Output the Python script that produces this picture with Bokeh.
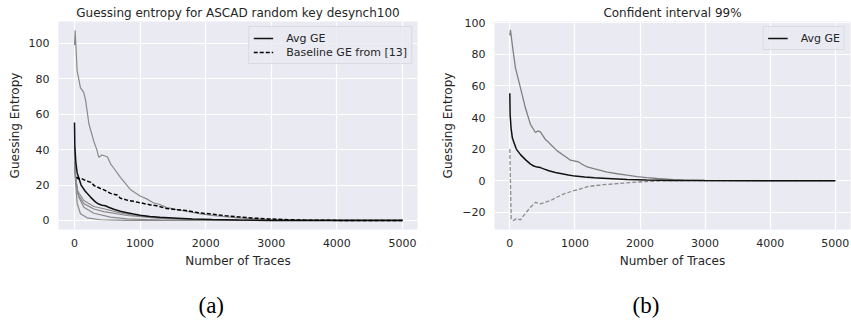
from bokeh.plotting import figure
from bokeh.models import Range1d, Title, Legend, LegendItem, FixedTicker
from bokeh.layouts import row
from bokeh.embed import file_html
from bokeh.resources import INLINE

# ---------------- data: panel (a) ----------------
run1_x = [0, 10, 40, 90, 140, 170, 220, 300, 340, 370, 420, 500, 550, 600, 700, 850, 1000, 1100,
          1200, 1300, 1400, 1550, 1700, 1900, 2100, 2300, 2500, 2700, 2950, 3200, 3500, 5000]
run1_y = [99, 107.5, 84.6, 75, 72.4, 67.7, 54.5, 44, 40, 35.7, 37, 36, 32, 29.5, 24.4, 17.5, 13.8, 12.2,
          10, 9, 7.4, 6.2, 5.2, 3.9, 2.8, 2.1, 1.5, 1.0, 0.5, 0.2, 0.05, 0]

run2_x = [0, 15, 41, 91, 193, 396, 800, 5000]
run2_y = [30, 22, 9.6, 3.8, 1.5, 0.4, 0.05, 0]

run3_x = [0, 15, 66, 142, 295, 549, 803, 1311, 2000, 5000]
run3_y = [33, 24, 13.1, 7.5, 4.1, 1.9, 0.9, 0.2, 0.05, 0]

run4_x = [0, 15, 41, 142, 295, 447, 650, 904, 1311, 1818, 2500, 5000]
run4_y = [42, 27, 17, 11.3, 7.9, 6.6, 4.7, 2.8, 1.5, 0.5, 0.1, 0]

run5_x = [0, 15, 50, 142, 295, 447, 803, 1311, 1800, 2500, 5000]
run5_y = [38, 25, 15, 9.5, 6.5, 5.0, 2.8, 1.2, 0.5, 0.1, 0]

avg_x = [0, 5, 20, 40, 61, 100, 164, 244, 318, 368, 420, 470, 520, 600, 700, 800, 900, 1000,
         1150, 1300, 1500, 1800, 2100, 2500, 3000, 5000]
avg_y = [55.4, 42, 33, 27, 24.5, 20, 16.5, 13.2, 10.5, 9.3, 8.6, 8.3, 7.5, 6.3, 5.2, 4.4, 3.6, 2.9,
         2.3, 1.8, 1.4, 0.8, 0.5, 0.2, 0.05, 0]

base_x = [30, 60, 100, 170, 250, 300, 400, 450, 550, 650, 700, 800, 900, 1000, 1160, 1250, 1400,
          1550, 1700, 1900, 2100, 2300, 2500, 2700, 2950, 3200, 3500, 4000, 5000]
base_y = [24.5, 23.5, 23.8, 22.5, 21.5, 19.7, 18, 17.3, 15.3, 14.4, 12.6, 11.5, 10.8, 10, 8.8, 8.3, 6.8,
          6.1, 5.6, 4.3, 3.6, 2.7, 2.0, 1.4, 0.9, 0.5, 0.2, 0.05, 0]

# ---------------- data: panel (b) ----------------
upper_x = [0, 10, 51, 87, 164, 240, 317, 394, 430, 470, 548, 573, 650, 728, 830, 932, 983, 1050,
           1137, 1200, 1290, 1393, 1494, 1650, 1800, 1957, 2100, 2264, 2518, 2674, 3000, 5000]
upper_y = [92, 95.5, 82, 71.4, 58.8, 46, 35.7, 30.5, 31.5, 30.9, 26, 25.2, 22, 18.9, 16, 13, 12.6, 12,
           9.8, 8.6, 7.6, 6.5, 5.4, 4.4, 3.5, 2.6, 2.0, 1.4, 0.7, 0.4, 0.1, 0]

lower_x = [0, 21, 61, 100, 164, 215, 318, 395, 471, 550, 625, 720, 829, 983, 1100, 1188, 1300,
           1444, 1600, 1751, 1900, 2058, 2250, 2468, 2700, 5000]
lower_y = [20, -24.2, -25.2, -24, -24.8, -22, -16.8, -13.7, -14.7, -13.5, -12.6, -10.5, -8.4, -6.3, -5,
           -3.8, -3.2, -2.5, -2.0, -1.5, -1.0, -0.6, -0.3, 0, 0, 0]

x_ticks = [0, 1000, 2000, 3000, 4000, 5000]
y_ticks_a = [0, 20, 40, 60, 80, 100]
y_ticks_b = [-20, 0, 20, 40, 60, 80, 100]

BG = "#EAEAF2"
TXT = "#262626"


def style(p, yt):
    p.background_fill_color = BG
    p.border_fill_color = "white"
    p.outline_line_color = None
    p.xgrid.grid_line_color = "white"
    p.ygrid.grid_line_color = "white"
    p.xgrid.grid_line_width = 1.2
    p.ygrid.grid_line_width = 1.2
    p.xaxis.ticker = FixedTicker(ticks=x_ticks)
    p.yaxis.ticker = FixedTicker(ticks=yt)
    for ax in (p.xaxis[0], p.yaxis[0]):
        ax.axis_line_color = None
        ax.major_tick_line_color = None
        ax.minor_tick_line_color = None
        ax.major_tick_out = 0
        ax.major_tick_in = 0
        ax.major_label_text_font = "DejaVu Sans"
        ax.major_label_text_font_size = "11px"
        ax.major_label_text_color = TXT
        ax.axis_label_text_font = "DejaVu Sans"
        ax.axis_label_text_font_size = "12px"
        ax.axis_label_text_font_style = "normal"
        ax.axis_label_text_color = TXT
    p.xaxis.major_label_standoff = 9
    p.yaxis.major_label_standoff = 9
    p.xaxis.axis_label_standoff = 4
    p.yaxis.axis_label_standoff = 4
    p.xaxis.axis_label = "Number of Traces"
    p.yaxis.axis_label = "Guessing Entropy"
    p.title.text_font = "DejaVu Sans"
    p.title.text_font_size = "12px"
    p.title.text_font_style = "normal"
    p.title.text_color = TXT
    p.title.align = "center"
    p.title.standoff = 4


def make_legend(items):
    lg = Legend(items=items, location="top_right")
    lg.background_fill_color = BG
    lg.background_fill_alpha = 0.8
    lg.border_line_color = "#cccccc"
    lg.border_line_width = 1
    lg.label_text_font = "DejaVu Sans"
    lg.label_text_font_size = "11px"
    lg.label_text_color = TXT
    lg.glyph_width = 20
    lg.glyph_height = 14
    lg.label_height = 14
    lg.label_standoff = 13
    lg.spacing = 0
    lg.padding = 4
    lg.margin = 5
    return lg


# ---------------- panel (a) ----------------
pa = figure(frame_width=359, frame_height=208, min_border_left=58, min_border_right=13,
            min_border_top=21, min_border_bottom=90,
            x_range=Range1d(-244, 5229), y_range=Range1d(-5.1, 112.4),
            title="Guessing entropy for ASCAD random key desynch100",
            output_backend="svg", toolbar_location=None)
style(pa, y_ticks_a)

gray = "#8a8a8a"
for xs, ys in ((run2_x, run2_y), (run3_x, run3_y), (run4_x, run4_y), (run5_x, run5_y), (run1_x, run1_y)):
    pa.line(xs, ys, line_color=gray, line_width=1.2)
ra_avg = pa.line(avg_x, avg_y, line_color="#111111", line_width=1.5)
ra_base = pa.line(base_x, base_y, line_color="black", line_width=1.5, line_dash="4 2")
pa.add_layout(make_legend([LegendItem(label="Avg GE", renderers=[ra_avg]),
                           LegendItem(label="Baseline GE from [13]", renderers=[ra_base])]))
pa.add_layout(Title(text="(a)", align="left", offset=140, text_font="Liberation Serif",
                    text_font_size="23px", text_font_style="normal", text_color="black",
                    standoff=40), "below")

# ---------------- panel (b) ----------------
pb = figure(frame_width=356, frame_height=208, min_border_left=64, min_border_right=1,
            min_border_top=21, min_border_bottom=90,
            x_range=Range1d(-235, 5233), y_range=Range1d(-30.9, 100.8),
            title="Confident interval 99%",
            output_backend="svg", toolbar_location=None)
style(pb, y_ticks_b)
pb.line(upper_x, upper_y, line_color="#808080", line_width=1.3)
pb.line(lower_x, lower_y, line_color="#8c8c8c", line_width=1.3, line_dash="4 2")
rb_avg = pb.line(avg_x, avg_y, line_color="#111111", line_width=1.5)
pb.add_layout(make_legend([LegendItem(label="Avg GE", renderers=[rb_avg])]))
pb.add_layout(Title(text="(b)", align="left", offset=138, text_font="Liberation Serif",
                    text_font_size="23px", text_font_style="normal", text_color="black",
                    standoff=40), "below")

layout = row(pa, pb)

open("out.html", "w").write(file_html(layout, INLINE))
